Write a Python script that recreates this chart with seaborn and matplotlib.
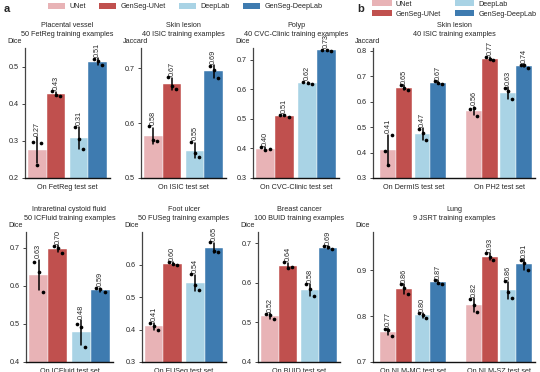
import pandas as pd
import matplotlib
matplotlib.use('Agg')
import matplotlib.pyplot as plt
from matplotlib.patches import Patch
from matplotlib.ticker import FormatStrFormatter
import seaborn as sns

sns.set_style('ticks')
plt.rcParams['font.family'] = ['Liberation Sans', 'DejaVu Sans']

models = ['UNet', 'GenSeg-UNet', 'DeepLab', 'GenSeg-DeepLab']
colors = ['#E8B3B6', '#C0504E', '#A9D3E5', '#3E7BB0']

# three runs per model (rows follow `models`)
fetreg = [[0.296, 0.293, 0.235], [0.433, 0.421, 0.424], [0.338, 0.278, 0.306], [0.521, 0.503, 0.514]]
isic = [[0.594, 0.567, 0.569], [0.684, 0.663, 0.667], [0.566, 0.539, 0.545], [0.704, 0.682, 0.697]]
cvc = [[0.404, 0.398, 0.396], [0.512, 0.508, 0.514], [0.626, 0.619, 0.622], [0.733, 0.731, 0.734]]
dermis = [[0.405, 0.470, 0.350], [0.665, 0.645, 0.652], [0.492, 0.448, 0.478], [0.680, 0.670, 0.672]]
ph2 = [[0.570, 0.545, 0.575], [0.776, 0.762, 0.768], [0.655, 0.608, 0.640], [0.742, 0.733, 0.745]]
icfluid = [[0.664, 0.585, 0.637], [0.706, 0.688, 0.700], [0.500, 0.440, 0.493], [0.594, 0.583, 0.592]]
fuseg = [[0.420, 0.397, 0.412], [0.608, 0.600, 0.601], [0.570, 0.522, 0.536], [0.668, 0.640, 0.643]]
buid = [[0.522, 0.508, 0.519], [0.652, 0.640, 0.637], [0.596, 0.567, 0.583], [0.692, 0.684, 0.690]]
nlm_mc = [[0.772, 0.757, 0.770], [0.869, 0.848, 0.861], [0.806, 0.796, 0.803], [0.878, 0.870, 0.872]]
nlm_sz = [[0.838, 0.808, 0.824], [0.937, 0.922, 0.928], [0.876, 0.840, 0.852], [0.922, 0.900, 0.915]]

# title, metric, test sets, score tables, ylim, yticks, axes (left px, top px, width px)
panels = [
    ('Placental vessel\n50 FetReg training examples', 'Dice', ['On FetReg test set'], [fetreg],
     (0.2, 0.55), [0.2, 0.3, 0.4, 0.5], (25, 48, 85)),
    ('Skin lesion\n40 ISIC training examples', 'Jaccard', ['On ISIC test set'], [isic],
     (0.5, 0.737), [0.5, 0.6, 0.7], (141, 48, 85)),
    ('Polyp\n40 CVC-Clinic training examples', 'Dice', ['On CVC-Clinic test set'], [cvc],
     (0.3, 0.74), [0.3, 0.4, 0.5, 0.6, 0.7], (253, 48, 86)),
    ('Skin lesion\n40 ISIC training examples', 'Jaccard', ['On DermIS test set', 'On PH2 test set'], [dermis, ph2],
     (0.3, 0.81), [0.3, 0.4, 0.5, 0.6, 0.7, 0.8], (373, 48, 162)),
    ('Intraretinal cystoid fluid\n50 ICFluid training examples', 'Dice', ['On ICFluid test set'], [icfluid],
     (0.4, 0.742), [0.4, 0.5, 0.6, 0.7], (26, 232, 87)),
    ('Foot ulcer\n50 FUSeg training examples', 'Dice', ['On FUSeg test set'], [fuseg],
     (0.3, 0.70), [0.3, 0.4, 0.5, 0.6], (142, 232, 84)),
    ('Breast cancer\n100 BUID training examples', 'Dice', ['On BUID test set'], [buid],
     (0.4, 0.728), [0.4, 0.5, 0.6, 0.7], (258, 232, 82)),
    ('Lung\n9 JSRT training examples', 'Dice', ['On NLM-MC test set', 'On NLM-SZ test set'], [nlm_mc, nlm_sz],
     (0.7, 0.983), [0.7, 0.8, 0.9], (373, 232, 162)),
]

W, H = 540, 372
AX_H = 130
FS = 5.2
fig = plt.figure(figsize=(W / 100, H / 100), dpi=100)

for title, metric, sets, tables, ylim, yticks, (left, top, width) in panels:
    ax = fig.add_axes([left / W, 1 - (top + AX_H) / H, width / W, AX_H / H])
    two = len(sets) > 1
    w, g = (0.185, 0.03) if two else (0.22, 0.05)
    offsets = [-1.5 * w - g / 2, -0.5 * w - g / 2, 0.5 * w + g / 2, 1.5 * w + g / 2]

    rows = []
    for j, table in enumerate(tables):
        for m, runs in enumerate(table):
            for r, v in enumerate(runs):
                rows.append({'pos': j + offsets[m], 'model': models[m], 'run': r, 'score': v})
    df = pd.DataFrame(rows)

    sns.barplot(data=df, x='pos', y='score', hue='model', hue_order=models, palette=colors,
                native_scale=True, dodge=False, width=1, saturation=1,
                errorbar='sd', err_kws={'color': 'black', 'linewidth': 1.1},
                edgecolor='white', linewidth=0.3, legend=False, ax=ax)

    # spread the run dots a little around each bar centre
    df['xj'] = df['pos'] + df['run'].map({0: -0.22, 1: 0.22, 2: 0.0}) * w
    sns.scatterplot(data=df, x='xj', y='score', color='black', s=7, linewidth=0,
                    legend=False, ax=ax, zorder=4)

    stats = df.groupby('pos')['score'].agg(['mean', 'std', 'max'])
    for pos, st in stats.iterrows():
        ax.annotate(f"{st['mean']:.2f}", (pos, max(st['mean'] + st['std'], st['max'])),
                    xytext=(0, 1), textcoords='offset points', rotation=90,
                    ha='center', va='bottom', fontsize=FS)

    if two:
        ax.set_xlim(-0.47, 1.42)
    else:
        ax.set_xlim(-0.5, 0.5)
    ax.set_ylim(ylim)
    ax.set_yticks(yticks)
    ax.yaxis.set_major_formatter(FormatStrFormatter('%.1f'))
    ax.set_xticks(range(len(sets)))
    ax.set_xticklabels(sets)
    ax.tick_params(axis='x', length=0, pad=4, labelsize=FS)
    ax.tick_params(axis='y', length=2.5, width=0.6, pad=2, labelsize=FS)
    ax.set_xlabel('')
    ax.set_ylabel('')
    sns.despine(ax=ax)
    ax.spines['left'].set_color('#444444')
    ax.spines['bottom'].set_color('#111111')
    ax.spines['left'].set_linewidth(0.9)
    ax.spines['bottom'].set_linewidth(1.0)
    ax.set_title(title, fontsize=FS, pad=9, linespacing=1.3)
    ax.annotate(metric, (0, 1), xycoords='axes fraction', xytext=(-18, 3),
                textcoords='offset pixels', ha='left', va='bottom', fontsize=FS)

handles = [Patch(facecolor=c, edgecolor='none', label=m) for m, c in zip(models, colors)]
fig.legend(handles=handles, ncol=4, loc='upper left', bbox_to_anchor=(48 / W, 1 - 3 / H),
           frameon=False, fontsize=FS, handlelength=2.4, handleheight=0.8,
           handletextpad=0.6, columnspacing=1.8, borderpad=0, borderaxespad=0)
fig.legend(handles=handles, ncol=2, loc='upper left', bbox_to_anchor=(372 / W, 1 - 0.5 / H),
           frameon=False, fontsize=FS, handlelength=2.7, handleheight=0.8,
           handletextpad=0.6, columnspacing=1.9, labelspacing=0.35, borderpad=0, borderaxespad=0)

fig.text(4 / W, 1 - 4 / H, 'a', fontsize=8, fontweight='bold', va='top')
fig.text(357 / W, 1 - 4 / H, 'b', fontsize=8, fontweight='bold', va='top')

fig.savefig('out.png', dpi=100)
